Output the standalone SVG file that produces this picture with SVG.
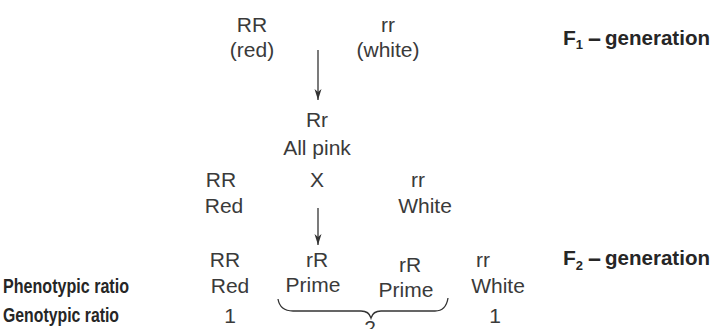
<svg xmlns="http://www.w3.org/2000/svg" width="712" height="329" viewBox="0 0 712 329">
<style>
.t{font-family:"Liberation Sans",Arial,sans-serif;font-size:21px;fill:#3a3a3a;text-anchor:middle}
.b{font-family:"Liberation Sans",Arial,sans-serif;font-size:21px;font-weight:bold;fill:#262626}
.c{stroke:#333;stroke-width:1.3;fill:none}
</style>
<defs>
<marker id="ah" markerUnits="userSpaceOnUse" markerWidth="12" markerHeight="8" refX="11" refY="3.5" orient="auto" viewBox="0 0 12 7">
<path d="M0,0 L11,3.5 L0,7 L3,3.5 Z" fill="#333"/>
</marker>
</defs>
<g id="parent-red"><text class="t" x="252" y="32">RR</text><text class="t" x="252" y="57">(red)</text></g>
<g id="parent-white"><text class="t" x="388" y="32">rr</text><text class="t" x="388" y="57">(white)</text></g>
<g id="f1-label"><text class="b" x="563" y="45">F<tspan font-size="13" dy="4">1</tspan><tspan x="587" dy="-4" textLength="15" lengthAdjust="spacingAndGlyphs">-</tspan><tspan x="605" textLength="105" lengthAdjust="spacingAndGlyphs">generation</tspan></text></g>
<g id="f1"><text class="t" x="317" y="127">Rr</text><text class="t" x="317" y="155">All pink</text></g>
<g id="cross-red"><text class="t" x="221" y="187">RR</text><text class="t" x="224" y="213">Red</text></g>
<g id="cross"><text class="t" x="317" y="187">X</text></g>
<g id="cross-white"><text class="t" x="418" y="187">rr</text><text class="t" x="425" y="213">White</text></g>
<g id="f2-label"><text class="b" x="563" y="265">F<tspan font-size="13" dy="5">2</tspan><tspan x="587" dy="-5" textLength="15" lengthAdjust="spacingAndGlyphs">-</tspan><tspan x="605" textLength="105" lengthAdjust="spacingAndGlyphs">generation</tspan></text></g>
<g id="row-labels">
<text class="b" x="3" y="293" font-size="22" textLength="126" lengthAdjust="spacingAndGlyphs">Phenotypic ratio</text>
<text class="b" x="3" y="322" font-size="22" textLength="116" lengthAdjust="spacingAndGlyphs">Genotypic ratio</text>
</g>
<g id="f2-RR"><text class="t" x="225" y="267">RR</text><text class="t" x="230" y="293">Red</text><text class="t" x="230" y="323">1</text></g>
<g id="f2-rR1"><text class="t" x="317" y="267">rR</text><text class="t" x="313" y="292">Prime</text></g>
<g id="f2-rR2"><text class="t" x="410" y="272">rR</text><text class="t" x="406" y="297">Prime</text></g>
<g id="f2-rr"><text class="t" x="483" y="267">rr</text><text class="t" x="498" y="293">White</text><text class="t" x="495" y="323">1</text></g>
<g id="hetero-count"><text class="t" x="370" y="335">2</text></g>
<g id="connectors">
<line class="c" x1="318" y1="50" x2="318" y2="100" marker-end="url(#ah)"/>
<line class="c" x1="318" y1="208" x2="318" y2="245" marker-end="url(#ah)"/>
<path class="c" d="M278,299 Q280,311 293,311 L361,311 Q369,311 371,318 Q373,311 381,311 L435,311 Q446,311 448,298"/>
</g>
</svg>
